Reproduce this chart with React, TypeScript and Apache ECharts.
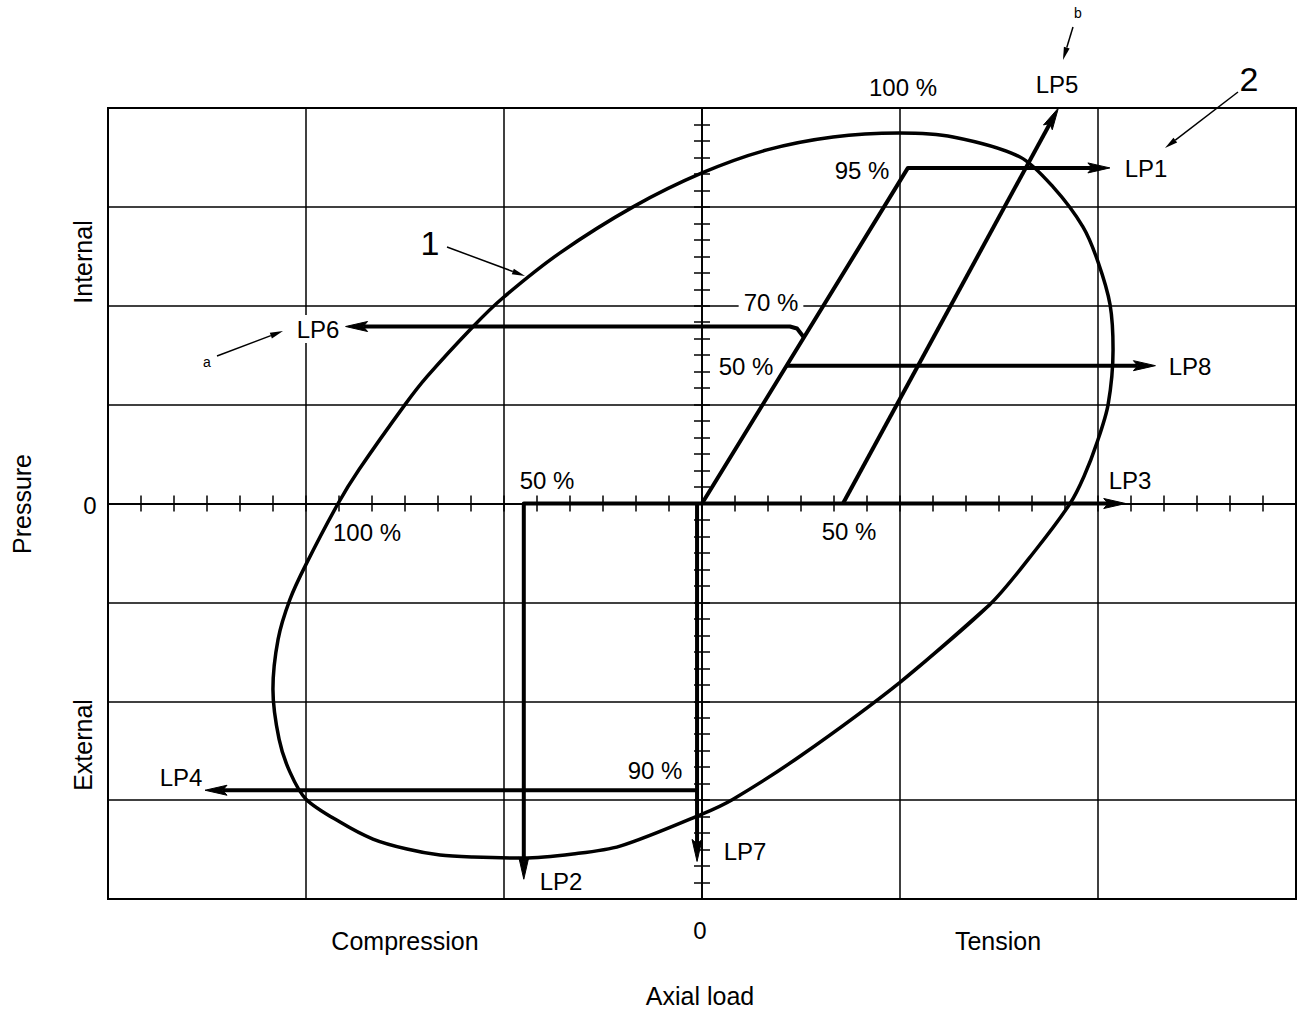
import React, { useEffect, useRef } from "react";
import * as echarts from "echarts";

// Axis ranges (grid cells)
const X_MIN = -3;
const X_MAX = 3;
const Y_MIN = -4;
const Y_MAX = 4;
const MINOR_SPLIT = 6;

// Curve 1 (envelope), in grid-cell units (closed loop, first segment repeated)
const ENVELOPE_X = [1.0, 1.455, 1.687, 1.859, 1.929, 1.995, 2.051, 2.076, 2.061, 2.0, 1.924, 1.773, 1.606, 1.268, 0.995, 0.662, 0.328, 0.0, -0.348, -0.717, -1.005, -1.157, -1.389, -1.5, -1.732, -1.838, -2.0, -2.081, -2.141, -2.167, -2.136, -2.081, -2.0, -1.828, -1.662, -1.49, -1.323, -1.157, -0.904, -0.652, -0.414, 0.0, 0.157, 0.495, 1.0, 1.455];
const ENVELOPE_Y = [-1.808, -1.02, -0.465, 0.0, 0.273, 0.616, 1.0, 1.556, 2.01, 2.444, 2.798, 3.202, 3.505, 3.707, 3.747, 3.707, 3.576, 3.343, 3.0, 2.535, 2.081, 1.788, 1.283, 1.0, 0.343, 0.0, -0.616, -0.97, -1.374, -1.879, -2.384, -2.717, -2.99, -3.222, -3.394, -3.495, -3.556, -3.576, -3.586, -3.545, -3.465, -3.141, -2.99, -2.556, -1.808, -1.02];

// Load paths (arrows)
const LP1 = [[0, 0], [1.04, 3.394], [2.06, 3.394]];
const LP2 = [[0, 0], [-0.9, 0], [-0.9, -3.8]];
const LP3 = [[0, 0], [2.14, 0]];
const LP4 = [[-0.025, -2.9], [-2.51, -2.9]];
const LP5 = [[0.712, 0], [1.8, 4.0]];
const LP6 = [[0.516, 1.677], [0.48, 1.77], [0.444, 1.79], [-1.8, 1.79]];
const LP7 = [[-0.025, 0], [-0.025, -3.62]];
const LP8 = [[0.427, 1.394], [2.29, 1.394]];
const LOAD_PATHS = [LP1, LP2, LP3, LP4, LP5, LP6, LP7, LP8];

const FONT = '"Liberation Sans", Arial, sans-serif';

function txt(text: string, x: number, y: number, size = 24, extra: any = {}) {
  return {
    type: "text",
    x,
    y,
    z: 100,
    rotation: extra.rotation || 0,
    style: {
      text,
      fontFamily: FONT,
      fontSize: size,
      fill: "#000",
      align: "center",
      verticalAlign: "middle",
      ...(extra.style || {}),
    },
  };
}

function leader(x1: number, y1: number, x2: number, y2: number) {
  const dx = x2 - x1;
  const dy = y2 - y1;
  const len = Math.hypot(dx, dy);
  const ux = dx / len;
  const uy = dy / len;
  const L = 13;
  const W = 3;
  const bx = x2 - ux * L;
  const by = y2 - uy * L;
  return [
    { type: "line", z: 100, shape: { x1, y1, x2: bx, y2: by }, style: { stroke: "#000", lineWidth: 1.5 } },
    {
      type: "polygon",
      z: 100,
      shape: { points: [[x2, y2], [bx - uy * W, by + ux * W], [bx + uy * W, by - ux * W]] },
      style: { fill: "#000" },
    },
  ];
}

function axisCommon(pos: string, min: number, max: number, split: boolean) {
  return {
    type: "value",
    position: pos,
    min,
    max,
    interval: 1,
    axisLine: { show: true, onZero: true, onZeroAxisIndex: 0, lineStyle: { color: "#000", width: 1.5 } },
    axisTick: { show: true, length: 8, lineStyle: { color: "#000", width: 1.5 } },
    minorTick: { show: true, splitNumber: MINOR_SPLIT, length: 8, lineStyle: { color: "#000", width: 1.5 } },
    axisLabel: { show: false },
    splitLine: { show: split, lineStyle: { color: "#000", width: 1.5 } },
    minorSplitLine: { show: false },
  };
}

export default function App() {
  const ref = useRef<HTMLDivElement>(null);
  useEffect(() => {
    if (!ref.current) return;
    const chart = echarts.init(ref.current, null, { renderer: "svg" });
    const envelope = ENVELOPE_X.map((x, i) => [x, ENVELOPE_Y[i]]);
    const option: any = {
      animation: false,
      backgroundColor: "#fff",
      grid: {
        left: 108,
        top: 108,
        right: 5,
        bottom: 113,
        show: true,
        borderColor: "#000",
        borderWidth: 2,
        backgroundColor: "transparent",
      },
      xAxis: [axisCommon("bottom", X_MIN, X_MAX, true), axisCommon("top", X_MIN, X_MAX, false)],
      yAxis: [axisCommon("left", Y_MIN, Y_MAX, true), axisCommon("right", Y_MIN, Y_MAX, false)],
      series: [
        {
          type: "line",
          data: envelope,
          smooth: 0.3,
          symbol: "none",
          lineStyle: { color: "#000", width: 3.5, join: "round" },
          z: 5,
        },
        {
          type: "custom",
          clip: false,
          z: 6,
          data: LOAD_PATHS.map((p) => p[0]),
          renderItem: (params: any, api: any) => {
            const pts = LOAD_PATHS[params.dataIndex].map((p) => api.coord(p));
            const n = pts.length;
            const tip = pts[n - 1];
            const prev = pts[n - 2];
            const dx = tip[0] - prev[0];
            const dy = tip[1] - prev[1];
            const len = Math.hypot(dx, dy);
            const ux = dx / len;
            const uy = dy / len;
            const L = 22;
            const W = 5;
            const back = [tip[0] - ux * L, tip[1] - uy * L];
            const notch = [tip[0] - ux * L * 0.8, tip[1] - uy * L * 0.8];
            const left = [back[0] - uy * W, back[1] + ux * W];
            const right = [back[0] + uy * W, back[1] - ux * W];
            const linePts = pts.slice(0, n - 1).concat([notch]);
            return {
              type: "group",
              children: [
                {
                  type: "polyline",
                  shape: { points: linePts },
                  style: { stroke: "#000", lineWidth: 4, fill: null, lineJoin: "round" },
                },
                {
                  type: "polygon",
                  shape: { points: [tip, left, notch, right] },
                  style: { fill: "#000", stroke: "#000", lineWidth: 1 },
                },
              ],
            };
          },
        },
      ],
      graphic: [
        txt("100 %", 903, 87),
        txt("LP5", 1057, 84),
        txt("2", 1249, 79, 34),
        txt("b", 1078, 13, 14),
        txt("95 %", 862, 170),
        txt("LP1", 1146, 168),
        txt("1", 430, 243, 34),
        txt("70 %", 771, 302, 24, { style: { backgroundColor: "#fff", padding: [0, 5] } }),
        txt("LP6", 318, 329, 24, { style: { backgroundColor: "#fff", padding: [2, 2] } }),
        txt("a", 207, 362, 14),
        txt("50 %", 746, 366),
        txt("LP8", 1190, 366),
        txt("50 %", 547, 480),
        txt("LP3", 1130, 480),
        txt("0", 90, 505),
        txt("100 %", 367, 532),
        txt("50 %", 849, 531),
        txt("90 %", 655, 770),
        txt("LP4", 181, 777),
        txt("LP7", 745, 851),
        txt("LP2", 561, 881),
        txt("Compression", 405, 941, 25),
        txt("0", 700, 930),
        txt("Tension", 998, 941, 25),
        txt("Axial load", 700, 996, 25),
        txt("Internal", 83, 262, 25, { rotation: Math.PI / 2 }),
        txt("External", 83, 745, 25, { rotation: Math.PI / 2 }),
        txt("Pressure", 22, 504, 25, { rotation: Math.PI / 2 }),
        ...leader(447, 247, 525, 276),
        ...leader(1238, 92, 1165, 148),
        ...leader(1073, 27, 1063, 60),
        ...leader(217, 356, 283, 331),
      ],
    };
    chart.setOption(option);
    return () => chart.dispose();
  }, []);
  return (
    <div
      ref={ref}
      style={{ position: "absolute", left: 0, top: 0, width: 1301, height: 1012 }}
    />
  );
}
